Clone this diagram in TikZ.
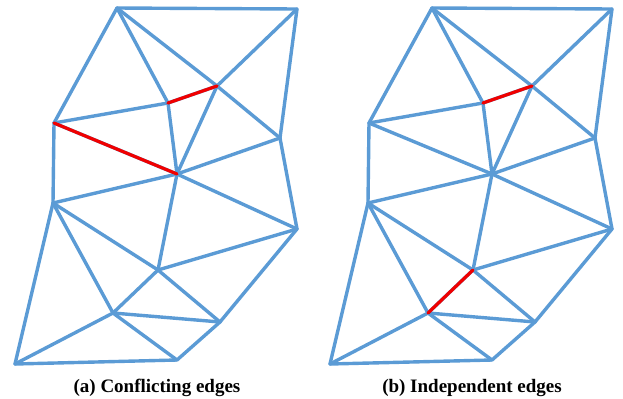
\documentclass[tikz,border=0pt]{standalone}
\usepackage{tikz}
\usepackage{fontspec}
\setmainfont{Liberation Serif}
\definecolor{meshblue}{HTML}{5B9BD5}
\definecolor{flipred}{HTML}{F00000}

\begin{document}
\begin{tikzpicture}[x=0.5pt, y=-0.5pt,
    meshedge/.style={meshblue, line width=1.7pt, line cap=round, line join=round},
    flipedge/.style={flipred, line width=1.6pt, line cap=round},
    caption/.style={font=\fontsize{9.5}{11}\selectfont\bfseries}]
  \useasboundingbox (0,0) rectangle (623,398);

  % Same triangulation twice: (a) at x=0, (b) shifted by 315
  \foreach \dx/\p in {0/a, 315/b} {
    \coordinate (\p-A) at (\dx+117,8);
    \coordinate (\p-B) at (\dx+297,9);
    \coordinate (\p-C) at (\dx+217,86);
    \coordinate (\p-D) at (\dx+168,103);
    \coordinate (\p-E) at (\dx+54,123);
    \coordinate (\p-F) at (\dx+177,174);
    \coordinate (\p-G) at (\dx+280,138);
    \coordinate (\p-H) at (\dx+53,203);
    \coordinate (\p-I) at (\dx+297,229);
    \coordinate (\p-J) at (\dx+158,270);
    \coordinate (\p-K) at (\dx+113,313);
    \coordinate (\p-L) at (\dx+220,322);
    \coordinate (\p-M) at (\dx+15,364);
    \coordinate (\p-N) at (\dx+177,360);
    % Edges
    \foreach \u/\v in {A/B, A/E, A/D, A/C, B/C, B/G, C/D, C/F, C/G,
                       D/F, E/D, E/F, E/H, F/G, G/I, F/H, F/J, F/I,
                       I/J, I/L, H/J, H/K, H/M, J/K, J/L, K/L, K/M,
                       K/N, L/N, M/N}
      \draw[meshedge] (\p-\u) -- (\p-\v);
  }

  % (a) two edges sharing a triangle
  \draw[flipedge] (a-C) -- (a-D);
  \draw[flipedge] (a-E) -- (a-F);
  % (b) two edges far apart
  \draw[flipedge] (b-C) -- (b-D);
  \draw[flipedge] (b-J) -- (b-K);

  % Captions
  \node[caption] (capa) at (157,388) {(a) Conflicting edges};
  \node[caption] (capb) at (472,388) {(b) Independent edges};
\end{tikzpicture}
\end{document}
